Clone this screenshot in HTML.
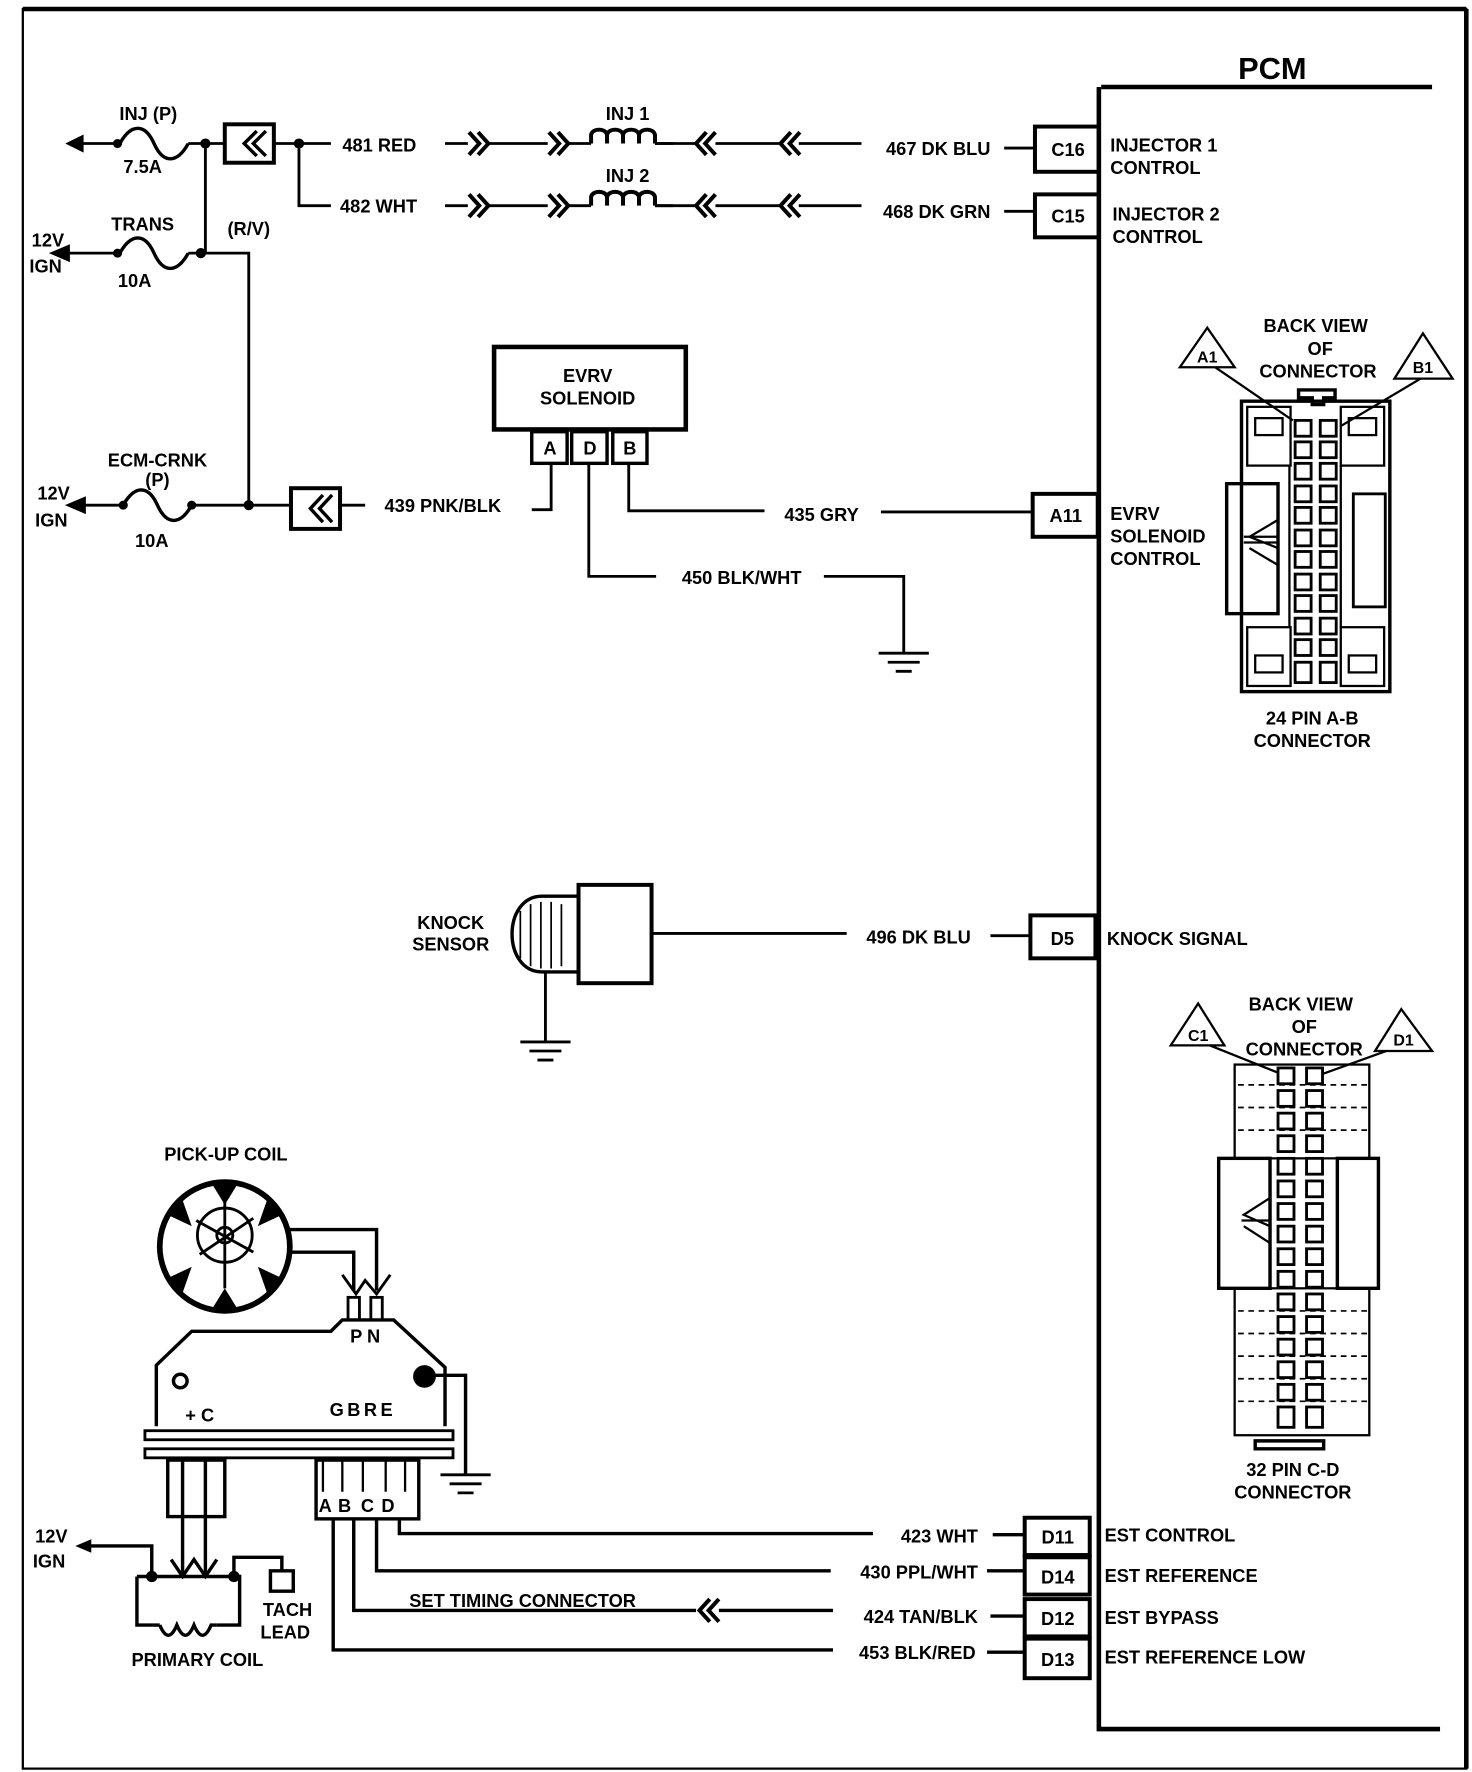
<!DOCTYPE html>
<html><head><meta charset="utf-8"><style>
html,body{margin:0;padding:0;background:#fff;}
svg{display:block;}
text{font-family:"Liberation Sans Narrow","Liberation Sans",sans-serif;font-weight:bold;fill:#000;}
</style></head><body>
<svg width="1472" height="1772" viewBox="0 0 1290 1568" preserveAspectRatio="none" xmlns="http://www.w3.org/2000/svg">
<defs>
<g id="chR"><path d="M0,-10 L9,0 L0,10 M8,-10 L17,0 L8,10" fill="none" stroke="#000" stroke-width="3.5"/></g>
<g id="chL"><path d="M17,-10 L8,0 L17,10 M9,-10 L0,0 L9,10" fill="none" stroke="#000" stroke-width="3.5"/></g>
<g id="fuse"><path d="M0,0 C10,-18 22,-18 30,0 C38,18 50,18 60,0" fill="none" stroke="#000" stroke-width="3"/></g>
<g id="coil"><path d="M0,0 L0,-7 C0,-14 14,-14 14,-7 L14,0 M14,-7 C14,-14 28,-14 28,-7 L28,0 M28,-7 C28,-14 42,-14 42,-7 L42,0 M42,-7 C42,-14 56,-14 56,-7 L56,0" fill="none" stroke="#000" stroke-width="3.5"/></g>
<g id="gnd"><path d="M-22,0 H22 M-14,8 H14 M-7,16 H7" stroke="#000" stroke-width="2.5"/></g>
</defs>
<g fill="none" stroke="#000">
<path d="M20,8 H1285 V1565 H20 Z" stroke-width="2"/>
<path d="M20,8 H1285" stroke-width="4"/>
<path d="M1285,8 V1565" stroke-width="4"/>
<path d="M965,77 H1255" stroke-width="4"/>
<path d="M963,77 V1530 H1262" stroke-width="4"/>
</g>
<text x="1115" y="70" font-size="27" text-anchor="middle">PCM</text>

<g stroke="#000" stroke-width="2.5" fill="none">
<path d="M68,127 H100"/><path d="M60,127 L72,121 L72,133 Z" fill="#000"/>
<use href="#fuse" x="105" y="127"/>
<path d="M165,127 H197"/>
<path d="M180,127 V224"/>
<rect x="197" y="110" width="43" height="34" stroke-width="3.5"/>
<path d="M240,127 H290"/>
<path d="M262,127 V182 H290"/>
<path d="M390,127 H410"/><path d="M427,127 H480"/><path d="M497,127 H518"/><path d="M574,127 H610"/><path d="M627,127 H683"/><path d="M700,127 H755"/>
<path d="M390,182 H410"/><path d="M427,182 H480"/><path d="M497,182 H518"/><path d="M574,182 H610"/><path d="M627,182 H683"/><path d="M700,182 H755"/>
<path d="M880,131 H907"/><path d="M880,187 H907"/>
<rect x="907" y="112" width="56" height="40" stroke-width="3.5"/>
<rect x="907" y="172" width="56" height="38" stroke-width="3.5"/>
<path d="M58,224 H100"/><path d="M46,224 L60,218 L60,230 Z" fill="#000"/>
<use href="#fuse" x="105" y="224"/>
<path d="M165,224 H218 V447"/>
<path d="M72,447 H105"/><path d="M60,447 L74,441 L74,453 Z" fill="#000"/>
<use href="#fuse" x="108" y="447"/>
<path d="M168,447 H255"/>
<rect x="255" y="432" width="43" height="36" stroke-width="3.5"/>
<path d="M298,447 H320"/>
<path d="M466,451 H483 V410"/>
<rect x="433" y="307" width="168" height="73" stroke-width="4"/>
<rect x="466" y="382" width="31" height="28" stroke-width="3"/>
<rect x="501" y="382" width="31" height="28" stroke-width="3"/>
<rect x="537" y="382" width="30" height="28" stroke-width="3"/>
<path d="M551,410 V452 H670"/>
<path d="M772,453 H905"/>
<rect x="905" y="437" width="57" height="38" stroke-width="3.5"/>
<path d="M516,410 V510 H575"/>
<path d="M722,510 H792 V578"/>
<use href="#gnd" x="792" y="578"/>
<path d="M507,793 H475 C440,793 440,860 475,860 H507" stroke-width="3"/>
<rect x="507" y="783" width="64" height="87" stroke-width="3.5"/>
<path d="M456,806 V848 M465,800 V855 M474,798 V857 M483,798 V857 M492,800 V855" stroke-width="1.5"/>
<path d="M478,860 V922"/>
<use href="#gnd" x="478" y="922"/>
<path d="M571,826 H742"/>
<path d="M868,828 H903"/>
<rect x="903" y="810" width="57" height="38" stroke-width="3.5"/>
</g>
<g fill="#000">
<circle cx="103" cy="127" r="4"/><circle cx="180" cy="127" r="4.5"/><circle cx="262" cy="127" r="4.5"/>
<circle cx="103" cy="224" r="4"/><circle cx="176" cy="224" r="4.5"/>
<circle cx="108" cy="447" r="4"/><circle cx="168" cy="447" r="4"/><circle cx="218" cy="447" r="4.5"/>
</g>
<use href="#chR" x="411" y="127"/><use href="#chR" x="481" y="127"/>
<use href="#chL" x="610" y="127"/><use href="#chL" x="684" y="127"/>
<use href="#chR" x="411" y="182"/><use href="#chR" x="481" y="182"/>
<use href="#chL" x="610" y="182"/><use href="#chL" x="684" y="182"/>
<use href="#coil" x="518" y="127"/><use href="#coil" x="518" y="182"/>
<path d="M574,127 H590 M574,182 H590" stroke="#000" stroke-width="2.5"/>
<path d="M225,116 L214,127 L225,138 M233,116 L222,127 L233,138" fill="none" stroke="#000" stroke-width="3"/>
<path d="M283,438 L272,450 L283,462 M291,438 L280,450 L291,462" fill="none" stroke="#000" stroke-width="3"/>

<g font-size="16">
<text x="130" y="106" text-anchor="middle">INJ (P)</text>
<text x="125" y="153" text-anchor="middle">7.5A</text>
<text x="300" y="134">481 RED</text>
<text x="298" y="188">482 WHT</text>
<text x="550" y="106" text-anchor="middle">INJ 1</text>
<text x="550" y="161" text-anchor="middle">INJ 2</text>
<text x="868" y="137" text-anchor="end">467 DK BLU</text>
<text x="868" y="193" text-anchor="end">468 DK GRN</text>
<text x="936" y="138" text-anchor="middle">C16</text>
<text x="936" y="197" text-anchor="middle">C15</text>
<text x="973" y="134">INJECTOR 1</text>
<text x="973" y="154">CONTROL</text>
<text x="975" y="195">INJECTOR 2</text>
<text x="975" y="215">CONTROL</text>
<text x="125" y="204" text-anchor="middle">TRANS</text>
<text x="218" y="208" text-anchor="middle">(R/V)</text>
<text x="118" y="254" text-anchor="middle">10A</text>
<text x="42" y="218" text-anchor="middle">12V</text>
<text x="40" y="241" text-anchor="middle">IGN</text>
<text x="138" y="413" text-anchor="middle">ECM-CRNK</text>
<text x="138" y="430" text-anchor="middle">(P)</text>
<text x="133" y="484" text-anchor="middle">10A</text>
<text x="47" y="442" text-anchor="middle">12V</text>
<text x="45" y="466" text-anchor="middle">IGN</text>
<text x="337" y="453">439 PNK/BLK</text>
<text x="515" y="338" text-anchor="middle">EVRV</text>
<text x="515" y="358" text-anchor="middle">SOLENOID</text>
<text x="482" y="402" text-anchor="middle">A</text>
<text x="517" y="402" text-anchor="middle">D</text>
<text x="552" y="402" text-anchor="middle">B</text>
<text x="720" y="461" text-anchor="middle">435 GRY</text>
<text x="650" y="517" text-anchor="middle">450 BLK/WHT</text>
<text x="934" y="462" text-anchor="middle">A11</text>
<text x="973" y="460">EVRV</text>
<text x="973" y="480">SOLENOID</text>
<text x="973" y="500">CONTROL</text>
<text x="395" y="822" text-anchor="middle">KNOCK</text>
<text x="395" y="841" text-anchor="middle">SENSOR</text>
<text x="805" y="835" text-anchor="middle">496 DK BLU</text>
<text x="931" y="836" text-anchor="middle">D5</text>
<text x="970" y="836">KNOCK SIGNAL</text>
</g>

<!-- Connector A-B -->
<g fill="none" stroke="#000" stroke-width="3">
<path d="M1058,290 L1034,325 L1082,325 Z" stroke-width="2"/>
<path d="M1247,295 L1222,335 L1273,335 Z" stroke-width="2"/>
<path d="M1065,325 L1133,372 M1245,335 L1175,377" stroke-width="2"/>
<path d="M1138,345 H1170 V352 H1160 V358 H1150 V352 H1138 Z"/>
<rect x="1088" y="355" width="130" height="257"/>
<rect x="1093" y="360" width="38" height="52" stroke-width="2"/>
<rect x="1175" y="360" width="38" height="52" stroke-width="2"/>
<rect x="1100" y="370" width="24" height="15" stroke-width="2"/>
<rect x="1182" y="370" width="24" height="15" stroke-width="2"/>
<rect x="1093" y="555" width="38" height="52" stroke-width="2"/>
<rect x="1175" y="555" width="38" height="52" stroke-width="2"/>
<rect x="1100" y="580" width="24" height="15" stroke-width="2"/>
<rect x="1182" y="580" width="24" height="15" stroke-width="2"/>
<rect x="1075" y="428" width="45" height="115"/>
<rect x="1186" y="437" width="28" height="100" stroke-width="2.5"/>
<path d="M1120,460 L1095,475 L1120,485 M1120,475 L1090,475 M1120,500 L1095,485 M1090,480 H1120" stroke-width="2"/>
<path d="M1130,412 V555 M1175,412 V555" stroke-width="2"/>
</g>
<g fill="#fff" stroke="#000" stroke-width="2.5">
<rect x="1135" y="372" width="14" height="14"/><rect x="1157" y="372" width="14" height="14"/>
<rect x="1135" y="391" width="14" height="14"/><rect x="1157" y="391" width="14" height="14"/>
<rect x="1135" y="410" width="14" height="14"/><rect x="1157" y="410" width="14" height="14"/>
<rect x="1135" y="430" width="14" height="14"/><rect x="1157" y="430" width="14" height="14"/>
<rect x="1135" y="449" width="14" height="14"/><rect x="1157" y="449" width="14" height="14"/>
<rect x="1135" y="469" width="14" height="14"/><rect x="1157" y="469" width="14" height="14"/>
<rect x="1135" y="488" width="14" height="14"/><rect x="1157" y="488" width="14" height="14"/>
<rect x="1135" y="508" width="14" height="14"/><rect x="1157" y="508" width="14" height="14"/>
<rect x="1135" y="527" width="14" height="14"/><rect x="1157" y="527" width="14" height="14"/>
<rect x="1135" y="547" width="14" height="14"/><rect x="1157" y="547" width="14" height="14"/>
<rect x="1135" y="566" width="14" height="14"/><rect x="1157" y="566" width="14" height="14"/>
<rect x="1135" y="586" width="14" height="18"/><rect x="1157" y="586" width="14" height="18"/>
</g>
<g font-size="16" text-anchor="middle">
<text x="1058" y="321" font-size="14">A1</text>
<text x="1247" y="330" font-size="14">B1</text>
<text x="1153" y="294">BACK VIEW</text>
<text x="1157" y="314">OF</text>
<text x="1155" y="334">CONNECTOR</text>
<text x="1150" y="641">24 PIN  A-B</text>
<text x="1150" y="661">CONNECTOR</text>
</g>

<!-- Connector C-D -->
<g fill="none" stroke="#000" stroke-width="3">
<path d="M1050,888 L1026,925 L1073,925 Z" stroke-width="2"/>
<path d="M1228,893 L1205,930 L1255,930 Z" stroke-width="2"/>
<path d="M1060,925 L1122,950 M1215,930 L1160,950" stroke-width="2"/>
<rect x="1082" y="942" width="118" height="83" stroke-width="2"/>
<rect x="1082" y="1140" width="118" height="130" stroke-width="2"/>
<rect x="1068" y="1025" width="45" height="115"/>
<rect x="1172" y="1025" width="36" height="115"/>
<path d="M1113,1060 L1090,1075 L1113,1085 M1113,1100 L1090,1085 M1088,1080 H1113" stroke-width="2"/>
<path d="M1100,1275 H1160 V1282 H1100 Z"/>
<path d="M1085,960 H1198 M1085,980 H1198 M1085,1000 H1198 M1085,1160 H1198 M1085,1180 H1198 M1085,1200 H1198 M1085,1220 H1198 M1085,1240 H1198" stroke-dasharray="5,4" stroke-width="1.5"/>
</g>
<g fill="#fff" stroke="#000" stroke-width="2.5">
<rect x="1120" y="945" width="14" height="14"/><rect x="1145" y="945" width="14" height="14"/>
<rect x="1120" y="965" width="14" height="14"/><rect x="1145" y="965" width="14" height="14"/>
<rect x="1120" y="985" width="14" height="14"/><rect x="1145" y="985" width="14" height="14"/>
<rect x="1120" y="1005" width="14" height="14"/><rect x="1145" y="1005" width="14" height="14"/>
<rect x="1120" y="1025" width="14" height="14"/><rect x="1145" y="1025" width="14" height="14"/>
<rect x="1120" y="1045" width="14" height="14"/><rect x="1145" y="1045" width="14" height="14"/>
<rect x="1120" y="1065" width="14" height="14"/><rect x="1145" y="1065" width="14" height="14"/>
<rect x="1120" y="1085" width="14" height="14"/><rect x="1145" y="1085" width="14" height="14"/>
<rect x="1120" y="1105" width="14" height="14"/><rect x="1145" y="1105" width="14" height="14"/>
<rect x="1120" y="1125" width="14" height="14"/><rect x="1145" y="1125" width="14" height="14"/>
<rect x="1120" y="1145" width="14" height="14"/><rect x="1145" y="1145" width="14" height="14"/>
<rect x="1120" y="1165" width="14" height="14"/><rect x="1145" y="1165" width="14" height="14"/>
<rect x="1120" y="1185" width="14" height="14"/><rect x="1145" y="1185" width="14" height="14"/>
<rect x="1120" y="1205" width="14" height="14"/><rect x="1145" y="1205" width="14" height="14"/>
<rect x="1120" y="1225" width="14" height="14"/><rect x="1145" y="1225" width="14" height="14"/>
<rect x="1120" y="1245" width="14" height="18"/><rect x="1145" y="1245" width="14" height="18"/>
</g>
<g font-size="16" text-anchor="middle">
<text x="1050" y="921" font-size="14">C1</text>
<text x="1230" y="925" font-size="14">D1</text>
<text x="1140" y="894">BACK VIEW</text>
<text x="1143" y="914">OF</text>
<text x="1143" y="934">CONNECTOR</text>
<text x="1133" y="1306">32  PIN C-D</text>
<text x="1133" y="1326">CONNECTOR</text>
</g>

<!-- Ignition module -->
<g fill="#000">
<path d="M186,1048 L208,1048 L197,1066 Z"/>
<path d="M186,1158 L208,1158 L197,1140 Z"/>
<path d="M147,1075 L160,1062 L168,1085 Z"/>
<path d="M247,1075 L234,1062 L226,1085 Z"/>
<path d="M147,1131 L160,1144 L168,1121 Z"/>
<path d="M247,1131 L234,1144 L226,1121 Z"/>
</g>
<g fill="none" stroke="#000" stroke-width="3">
<circle cx="197" cy="1103" r="57" stroke-width="5"/>
<circle cx="197" cy="1093" r="24" stroke-width="2.5"/>
<circle cx="197" cy="1093" r="7" stroke-width="2.5"/>
<path d="M197,1063 V1140 M175,1110 L222,1078 M172,1080 L222,1108" stroke-width="2.5"/>
<path d="M254,1088 H330 V1142 M254,1108 H310 V1142"/>
<path d="M300,1128 L312,1145 L320,1133 L330,1145 L342,1128" stroke-width="2.5"/>
<rect x="305" y="1148" width="10" height="20" stroke-width="2.5"/>
<rect x="325" y="1148" width="10" height="20" stroke-width="2.5"/>
<path d="M137,1262 V1208 L168,1178 H290 L300,1168 H345 L390,1210 V1262"/>
<circle cx="158" cy="1222" r="6"/>
<rect x="127" y="1266" width="270" height="8" stroke-width="2.5"/>
<rect x="127" y="1282" width="270" height="8" stroke-width="2.5"/>
<rect x="147" y="1292" width="50" height="50"/>
<path d="M160,1292 V1395 M180,1292 V1395"/>
<rect x="277" y="1292" width="90" height="52"/>
<path d="M283,1292 V1320 M300,1292 V1320 M318,1292 V1320 M338,1292 V1320 M355,1292 V1320" stroke-width="2"/>
<path d="M380,1217 H408 V1305"/>
<path d="M350,1344 V1357 H765"/>
<path d="M330,1344 V1390 H728"/>
<path d="M310,1344 V1425 H610"/>
<path d="M630,1425 H730"/>
<path d="M292,1344 V1460 H730"/>
<path d="M870,1358 H898 M865,1390 H898 M868,1430 H898 M865,1462 H898"/>
<rect x="898" y="1343" width="57" height="33" stroke-width="3.5"/>
<rect x="898" y="1378" width="57" height="33" stroke-width="3.5"/>
<rect x="898" y="1415" width="57" height="33" stroke-width="3.5"/>
<rect x="898" y="1450" width="57" height="35" stroke-width="3.5"/>
<path d="M75,1368 H133 V1395"/>
<path d="M120,1395 H210 V1438 H190 M120,1395 V1438 H140"/>
<path d="M140,1438 C145,1450 150,1450 155,1438 C160,1450 165,1450 170,1438 C175,1450 180,1450 185,1438 L190,1438"/>
<path d="M150,1380 L160,1395 L170,1380 L180,1395 L190,1380"/>
<path d="M205,1395 V1378 H247 V1390"/>
<rect x="237" y="1390" width="20" height="18"/>
</g>
<path d="M66,1368 L80,1362 L80,1374 Z"/>
<use href="#gnd" x="408" y="1305"/>
<circle cx="372" cy="1218" r="10"/>
<circle cx="133" cy="1395" r="5"/><circle cx="205" cy="1395" r="5"/>
<use href="#chL" x="613" y="1425"/>
<g font-size="16">
<text x="198" y="1027" text-anchor="middle">PICK-UP COIL</text>
<text x="320" y="1188" text-anchor="middle">P N</text>
<text x="175" y="1258" text-anchor="middle">+ C</text>
<text x="318" y="1253" text-anchor="middle" letter-spacing="3">GBRE</text>
<text x="285" y="1338" text-anchor="middle">A</text>
<text x="302" y="1338" text-anchor="middle">B</text>
<text x="322" y="1338" text-anchor="middle">C</text>
<text x="340" y="1338" text-anchor="middle">D</text>
<text x="45" y="1365" text-anchor="middle">12V</text>
<text x="43" y="1387" text-anchor="middle">IGN</text>
<text x="252" y="1430" text-anchor="middle">TACH</text>
<text x="250" y="1450" text-anchor="middle">LEAD</text>
<text x="173" y="1474" text-anchor="middle">PRIMARY COIL</text>
<text x="458" y="1422" text-anchor="middle">SET TIMING CONNECTOR</text>
<text x="857" y="1365" text-anchor="end">423 WHT</text>
<text x="857" y="1397" text-anchor="end">430 PPL/WHT</text>
<text x="857" y="1436" text-anchor="end">424 TAN/BLK</text>
<text x="855" y="1468" text-anchor="end">453 BLK/RED</text>
<text x="927" y="1366" text-anchor="middle">D11</text>
<text x="927" y="1401" text-anchor="middle">D14</text>
<text x="927" y="1438" text-anchor="middle">D12</text>
<text x="927" y="1474" text-anchor="middle">D13</text>
<text x="968" y="1364">EST CONTROL</text>
<text x="968" y="1400">EST REFERENCE</text>
<text x="968" y="1437">EST BYPASS</text>
<text x="968" y="1472">EST REFERENCE LOW</text>
</g>
</svg>
</body></html>
